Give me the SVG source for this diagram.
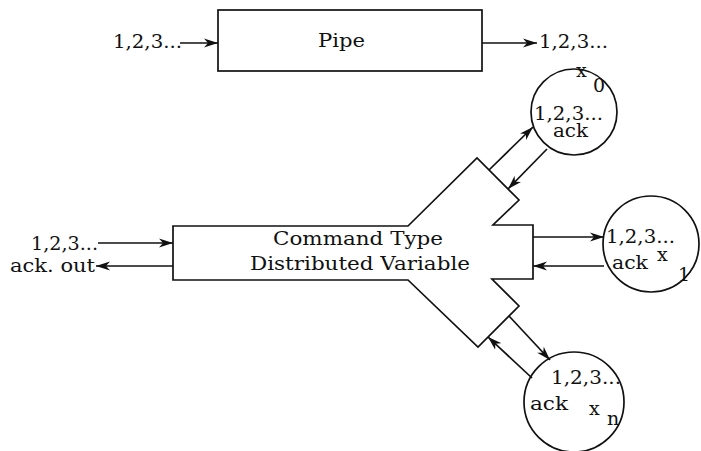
<svg xmlns="http://www.w3.org/2000/svg" width="701" height="451" viewBox="0 0 701 451">
<style>
  .shape { fill: none; stroke: #111; stroke-width: 1.7; stroke-linejoin: miter; }
  .conn { fill: none; stroke: #111; stroke-width: 1.7; }
  text { font-family: "DejaVu Serif", "Liberation Serif", serif; font-size: 19px; fill: #111; }
  .small { font-size: 18px; }
</style>
<defs>
  <marker id="arr" markerUnits="userSpaceOnUse" markerWidth="15" markerHeight="10" refX="14" refY="5" orient="auto">
    <path d="M0,0.5 L14,5 L0,9.5 L4,5 Z" fill="#111"/>
  </marker>
</defs>
<rect width="701" height="451" fill="#fff"/>

<g id="pipe">
  <rect class="shape" x="218" y="10" width="264" height="61"/>
  <text x="318" y="47" textLength="47" lengthAdjust="spacingAndGlyphs">Pipe</text>
</g>

<g id="distributed-variable">
  <path class="shape" d="M173,226 L408,226 L477,158 L519,200 L493,225 L533,225 L533,279 L492,279 L519,306 L478,347 L408,280 L173,280 Z"/>
  <text x="273" y="245" textLength="170" lengthAdjust="spacingAndGlyphs">Command Type</text>
  <text x="250" y="270" textLength="220" lengthAdjust="spacingAndGlyphs">Distributed Variable</text>
</g>

<g id="x0">
  <circle class="shape" cx="574" cy="112" r="43"/>
  <text x="576" y="77">x</text>
  <text x="593" y="92">0</text>
  <text class="small" x="534" y="120" textLength="69" lengthAdjust="spacingAndGlyphs">1,2,3...</text>
  <text class="small" x="553" y="137" textLength="35" lengthAdjust="spacingAndGlyphs">ack</text>
</g>

<g id="x1">
  <circle class="shape" cx="651" cy="244" r="48"/>
  <text class="small" x="606" y="243" textLength="69" lengthAdjust="spacingAndGlyphs">1,2,3...</text>
  <text class="small" x="612" y="269" textLength="36" lengthAdjust="spacingAndGlyphs">ack</text>
  <text x="657" y="261">x</text>
  <text x="678" y="281">1</text>
</g>

<g id="xn">
  <circle class="shape" cx="574" cy="402" r="50"/>
  <text class="small" x="551" y="384" textLength="70" lengthAdjust="spacingAndGlyphs">1,2,3...</text>
  <text class="small" x="530" y="410" textLength="38" lengthAdjust="spacingAndGlyphs">ack</text>
  <text x="589" y="415">x</text>
  <text x="607" y="425">n</text>
</g>

<g id="connectors">
  <line class="conn" x1="180" y1="43" x2="218" y2="43" marker-end="url(#arr)"/>
  <line class="conn" x1="482" y1="43" x2="537" y2="43" marker-end="url(#arr)"/>
  <line class="conn" x1="98" y1="243" x2="173" y2="243" marker-end="url(#arr)"/>
  <line class="conn" x1="173" y1="266" x2="96" y2="266" marker-end="url(#arr)"/>
  <line class="conn" x1="489" y1="170" x2="533" y2="127" marker-end="url(#arr)"/>
  <line class="conn" x1="547" y1="149" x2="508" y2="189" marker-end="url(#arr)"/>
  <line class="conn" x1="533" y1="237" x2="604" y2="237" marker-end="url(#arr)"/>
  <line class="conn" x1="604" y1="266" x2="533" y2="266" marker-end="url(#arr)"/>
  <line class="conn" x1="509" y1="316" x2="550" y2="360" marker-end="url(#arr)"/>
  <line class="conn" x1="532" y1="378" x2="488" y2="337" marker-end="url(#arr)"/>
</g>

<g id="labels">
  <text x="113" y="48" textLength="69" lengthAdjust="spacingAndGlyphs">1,2,3...</text>
  <text x="539" y="48" textLength="69" lengthAdjust="spacingAndGlyphs">1,2,3...</text>
  <text x="31" y="250" textLength="67" lengthAdjust="spacingAndGlyphs">1,2,3...</text>
  <text x="10" y="272" textLength="85" lengthAdjust="spacingAndGlyphs">ack. out</text>
</g>
</svg>
